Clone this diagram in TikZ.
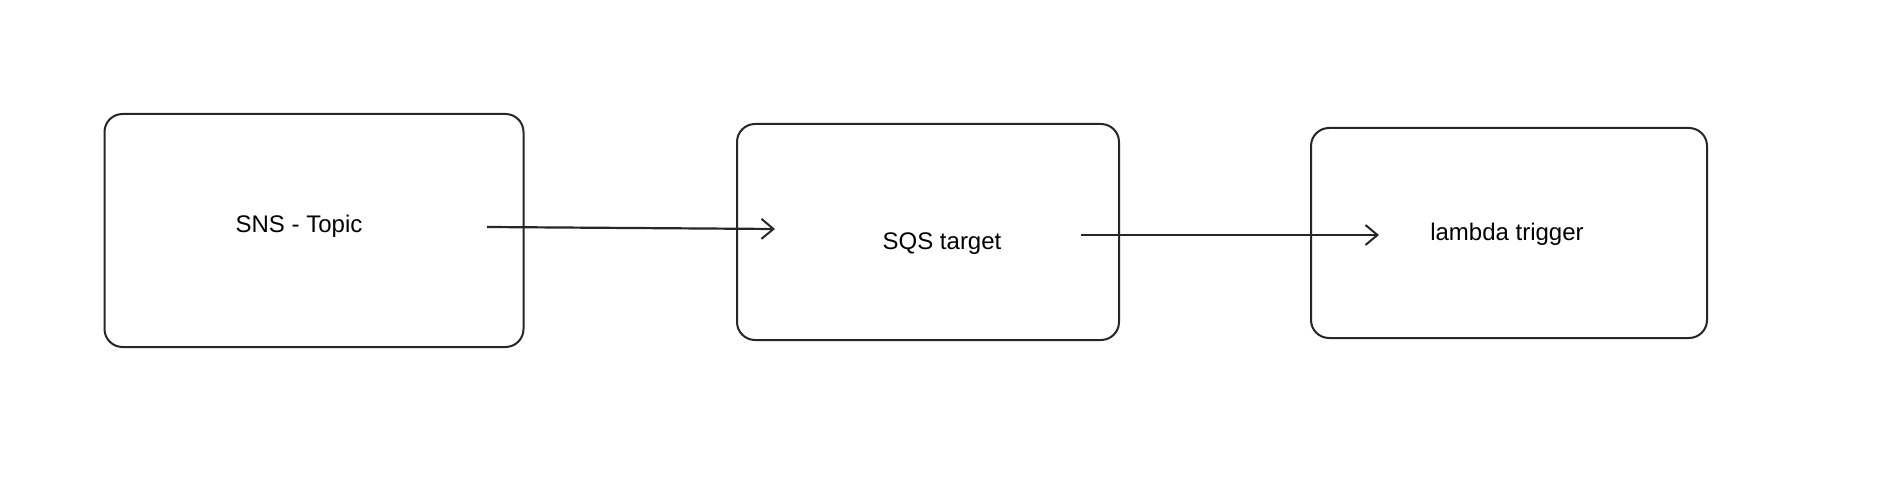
\documentclass[tikz,border=0pt]{standalone}
\usepackage{fontspec}
\setmainfont{Liberation Sans}
\usetikzlibrary{arrows.meta}
\tikzset{stage/.style={rectangle,draw=black!85,line width=1pt,rounded corners=9pt,
inner sep=0pt},
lbl/.style={inner sep=0pt, font=\fontsize{12}{12}\selectfont},
flow/.style={draw=black!85,line width=1.1pt,-{Straight Barb[length=6pt,width=10pt,line width=1pt]}}}
\begin{document}
\begin{tikzpicture}[x=0.5pt,y=-0.5pt]
  \useasboundingbox (0,0) rectangle (1894,486);

  \node (sns) [stage,minimum width=209.5pt,minimum height=116.5pt] at (314,230.5) {};
  \node (sqs) [stage,minimum width=191pt,minimum height=108pt] at (928,232) {};
  \node (lambda) [stage,minimum width=198pt,minimum height=105pt] at (1509,233) {};

  \node (snstext) [lbl] at (299,226) {SNS - Topic};
  \node (sqstext) [lbl] at (942,244) {SQS target};
  \node (lambdatext) [lbl] at (1507,234) {lambda trigger};

  \coordinate (snsout) at (487,227);
  \coordinate (sqsin) at (775,229);
  \coordinate (sqsout) at (1081,235);
  \coordinate (lambdain) at (1379,235);

  \draw [flow] (snsout) -- (sqsin);
  \draw [flow] (sqsout) -- (lambdain);
\end{tikzpicture}
\end{document}
